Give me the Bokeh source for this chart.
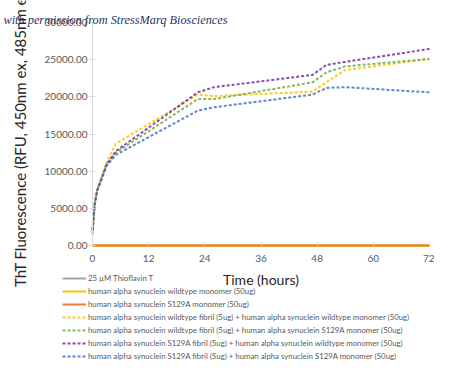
from bokeh.plotting import figure
from bokeh.models import (Range1d, Legend, LegendItem, Label, NumeralTickFormatter,
                          FixedTicker, LinearAxis)
from bokeh.embed import file_html
from bokeh.resources import INLINE

# ---- data ----
time_h = [0, 0.5, 1, 2, 3, 5, 22.5, 26, 47, 50, 54, 72]
tht_only = [0] * 12
wt_monomer = [0] * 12
s129a_monomer = [0] * 12
wtfib_wtmono = [1800, 5800, 7600, 9400, 11200, 13700, 20300, 20100, 20700, 22000, 23600, 25100]
wtfib_s129amono = [1500, 5500, 7300, 9000, 10800, 12500, 19700, 19700, 21950, 23300, 24100, 25100]
s129afib_wtmono = [2000, 5700, 7400, 9100, 10900, 12700, 20600, 21300, 22950, 24300, 24700, 26450]
s129afib_s129amono = [2100, 5800, 7400, 9100, 10700, 12200, 18150, 18600, 20300, 21200, 21300, 20600]

labels = [
    "25 \u00b5M Thioflavin T",
    "human alpha synuclein wildtype monomer (50ug)",
    "human alpha synuclein S129A monomer (50ug)",
    "human alpha synuclein wildtype fibril (5ug) + human alpha synuclein wildtype monomer (50ug)",
    "human alpha synuclein wildtype fibril (5ug) + human alpha synuclein S129A monomer (50ug)",
    "human alpha synuclein S129A fibril (5ug) + human alpha synuclein wildtype monomer (50ug)",
    "human alpha synuclein S129A fibril (5ug) + human alpha synuclein S129A monomer (50ug)",
]
x_ticks = [0, 12, 24, 36, 48, 60, 72]
y_ticks = [0, 5000, 10000, 15000, 20000, 25000, 30000]
x_min, x_max = 0, 72
y_min, y_max = 0, 30000

# ---- layout (pixels) ----
W, H = 434, 361
PX_X0, PX_X1 = 92, 429      # pixel columns of x_min / x_max
PX_Y0, PX_Y1 = 245, 22      # pixel rows of y_min / y_max
sx = (PX_X1 - PX_X0) / (x_max - x_min)
sy = (PX_Y0 - PX_Y1) / (y_max - y_min)
xr = Range1d(x_min - PX_X0 / sx, x_min + (W - PX_X0) / sx)
yr = Range1d(y_min - (H - PX_Y0) / sy, y_min + PX_Y0 / sy)

FONT = "Lato"
p = figure(width=W, height=H, output_backend="svg", toolbar_location=None,
           x_range=xr, y_range=yr, x_axis_location=None, y_axis_location=None,
           min_border=0)
p.outline_line_color = None
p.xgrid.visible = False
p.ygrid.visible = False

series = [
    (tht_only, "#a5a5a5", None),
    (wt_monomer, "#ffc000", None),
    (s129a_monomer, "#ed7d31", None),
    (wtfib_wtmono, "#ffc000", "3 2"),
    (wtfib_s129amono, "#70ad47", "3 2"),
    (s129afib_wtmono, "#7030a0", "3 2"),
    (s129afib_s129amono, "#4472c4", "3 2"),
]

xaxis = LinearAxis(fixed_location=y_min, bounds=(x_min, x_max))
yaxis = LinearAxis(fixed_location=x_min, bounds=(y_min, y_max))
p.add_layout(xaxis, "below")
p.add_layout(yaxis, "left")

items = []
for (vals, col, dash), lab in zip(series, labels):
    kw = dict(line_color=col, line_width=2)
    if dash:
        kw["line_dash"] = dash
        kw["line_alpha"] = 0.85
    r = p.line(time_h, vals, **kw)
    items.append(LegendItem(label=lab, renderers=[r]))

for ax in (xaxis, yaxis):
    ax.axis_line_color = "#d9d9d9"
    ax.major_tick_line_color = "#d9d9d9"
    ax.minor_tick_line_color = None
    ax.major_label_text_font = FONT
    ax.major_label_text_font_size = "10px"
    ax.major_label_text_color = "#595959"
    ax.axis_label_text_font = FONT
    ax.axis_label_text_font_style = "normal"
    ax.axis_label_text_color = "#262626"

xaxis.axis_line_color = None
xaxis.ticker = FixedTicker(ticks=x_ticks)
xaxis.major_tick_in = 4
xaxis.major_tick_out = 0
xaxis.major_label_standoff = 9
xaxis.axis_label = "Time (hours)"
xaxis.axis_label_standoff = 6
xaxis.axis_label_text_font_size = "14px"

yaxis.ticker = FixedTicker(ticks=y_ticks)
yaxis.formatter = NumeralTickFormatter(format="0.00")
yaxis.major_tick_in = 3
yaxis.major_tick_out = 3
yaxis.major_label_standoff = 2
yaxis.axis_label = "ThT Fluorescence (RFU, 450nm ex, 485nm em)"
yaxis.axis_label_standoff = 13
yaxis.axis_label_text_font_size = "15px"

legend = Legend(items=items, location=(62, 0), orientation="vertical",
                label_text_font=FONT, label_text_font_size="7.8px", label_text_color="#595959",
                glyph_width=24, glyph_height=10, label_height=10, label_standoff=2,
                spacing=3, padding=0, margin=0,
                border_line_color=None, background_fill_alpha=0)
p.add_layout(legend, "center")

wm = Label(x=3, y=H - 19, x_units="screen", y_units="screen",
           text="with permission from StressMarq Biosciences",
           text_font="Liberation Serif", text_font_style="italic", text_font_size="12.3px",
           text_color="#1f3864", text_baseline="alphabetic")
p.add_layout(wm)

open("out.html", "w").write(file_html(p, INLINE))
